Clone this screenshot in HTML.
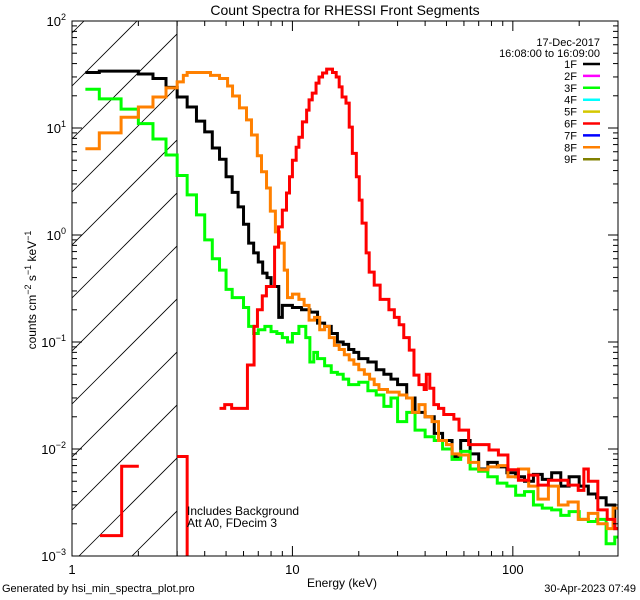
<!DOCTYPE html>
<html><head><meta charset="utf-8"><style>
html,body{margin:0;padding:0;background:#fff;width:640px;height:600px;overflow:hidden;}
svg{display:block;font-family:"Liberation Sans",sans-serif;}
</style></head><body>
<svg id="chart" width="640" height="600" viewBox="0 0 640 600">
<defs><clipPath id="plotclip"><rect x="72" y="21" width="546" height="535"/></clipPath>
<clipPath id="hatchclip"><rect x="72" y="21" width="105" height="535"/></clipPath></defs>
<text x="345" y="15" font-size="14" text-anchor="middle">Count Spectra for RHESSI Front Segments</text>
<g id="hatch" clip-path="url(#hatchclip)"></g>
<line x1="177" y1="21" x2="177" y2="556" stroke="#000" stroke-width="1"/>
<g id="series" clip-path="url(#plotclip)"></g>
<rect x="72" y="21" width="546" height="535" fill="none" stroke="#000" stroke-width="1"/>
<g id="axes"></g>
<text x="0" y="0" font-size="12" text-anchor="middle" transform="translate(36,290) rotate(-90)">counts cm<tspan dy="-5" font-size="9">−2</tspan><tspan dy="5"> s</tspan><tspan dy="-5" font-size="9">−1</tspan><tspan dy="5"> keV</tspan><tspan dy="-5" font-size="9">−1</tspan></text>
<text x="342" y="587" font-size="12" text-anchor="middle">Energy (keV)</text>
<text x="2" y="592" font-size="11">Generated by hsi_min_spectra_plot.pro</text>
<text x="636" y="592" font-size="11" text-anchor="end">30-Apr-2023 07:49</text>
<text x="187" y="515" font-size="12">Includes Background</text>
<text x="187" y="527" font-size="12">Att A0, FDecim 3</text>
<text x="600" y="46" font-size="11" text-anchor="end">17-Dec-2017</text>
<text x="600" y="57" font-size="11" text-anchor="end">16:08:00 to 16:09:00</text>
<g id="legend"></g>
</svg>
<script>
const legendLabels = ["1F","2F","3F","4F","5F","6F","7F","8F","9F"];
const legendColors = ["#000000","#ff00ff","#00ff00","#00ffff","#d4c800","#ff0000","#0000ff","#ff8000","#808000"];
const e1F = [1.15,1.33,1.67,2.0,2.33,2.67,3.0,3.33,3.67,4.0,4.33,4.67,5.0,5.33,5.67,6.0,6.33,6.67,7.0,7.33,7.67,8.0,8.33,8.67,9,10,11,12,13,14,15,16,17,18,19,20,22,24,26,28,30,33,36,40,44,48,53,58,64,70,77,85,94,103,113,124,136,150,165,180,200,220,240,265,290,300];
const v1F = [33,34,34,32,29,24,19.5,15.7,11.6,9.2,6.5,5.1,3.5,2.5,1.83,1.26,0.84,0.68,0.56,0.44,0.40,0.33,0.33,0.17,0.22,0.21,0.2,0.19,0.15,0.14,0.12,0.1,0.095,0.085,0.08,0.07,0.065,0.055,0.05,0.045,0.04,0.03,0.022,0.02,0.014,0.012,0.0085,0.012,0.009,0.0065,0.0075,0.0068,0.006,0.0055,0.005,0.0058,0.0052,0.006,0.0045,0.0055,0.0045,0.0038,0.0035,0.003,0.0018];
const e3F = [1.15,1.33,1.67,2.0,2.33,2.67,3.0,3.33,3.67,4.0,4.33,4.67,5.0,5.33,6.0,6.33,6.67,7.0,7.5,8,8.5,9,9.5,10,10.7,11.5,12,12.5,13,14,15,16,17,18,20,22,24,26,28,30,33,36,40,44,48,53,58,64,70,77,85,94,103,113,124,136,150,165,180,200,220,240,265,290,300];
const v3F = [23,18.7,15,11,7.9,5.6,3.6,2.37,1.54,0.9,0.6,0.47,0.31,0.26,0.21,0.14,0.12,0.13,0.14,0.125,0.12,0.11,0.1,0.12,0.14,0.11,0.065,0.08,0.07,0.06,0.052,0.05,0.045,0.04,0.042,0.035,0.032,0.025,0.03,0.018,0.022,0.015,0.013,0.012,0.01,0.008,0.0095,0.0065,0.0062,0.0055,0.0048,0.0045,0.0037,0.004,0.003,0.0028,0.0027,0.0024,0.0026,0.0022,0.0021,0.0022,0.0013,0.0015];
const e8F = [1.15,1.33,1.67,2.0,2.33,2.67,3.0,3.2,3.33,4.25,4.67,5.08,5.35,5.75,6.19,6.52,6.93,7.24,7.63,7.94,8.37,8.73,9.18,9.5,10,10.7,11.3,11.9,12.6,13.3,14,14.7,15.5,16.3,17.2,18.1,19,20,21.2,22.4,23.5,24.7,27,30.5,33,35,37.5,40,43,46,50,53,57,63,70,77,86,95,106,118,130,145,161,178,198,220,243,268,285,300];
const v8F = [6.4,9.0,12.6,15.7,19.5,23.7,27,31,33,31,29,24.7,19.9,15.4,11.9,8.6,5.5,3.9,2.75,1.67,1.07,0.84,0.47,0.26,0.28,0.25,0.22,0.16,0.17,0.13,0.14,0.11,0.093,0.085,0.076,0.068,0.062,0.055,0.05,0.045,0.04,0.036,0.034,0.032,0.03,0.022,0.026,0.02,0.018,0.012,0.011,0.009,0.0088,0.0075,0.0064,0.0068,0.007,0.0055,0.0065,0.0045,0.0034,0.0045,0.003,0.0032,0.0022,0.0025,0.002,0.0018,0.0028];
const e6F = [1.34,1.68,2.01,3.0,3.33,3.67,4.67,4.93,5.3,6.25,6.7,6.94,7.3,7.62,7.95,8.3,8.65,9.0,9.4,9.7,10.0,10.4,10.7,11.1,11.6,11.9,12.3,12.8,13.2,13.7,14.3,14.7,15.2,15.8,16.3,16.8,17.5,18.1,18.7,19.5,20.1,20.7,21.6,22.3,23.5,25,27.4,29,30.5,32,33.9,35.6,37.5,39.6,40.5,42,43.8,46,48.6,54,57,63,70,78,86,95,106,118,130,145,161,178,198,210,220,243,268,290,300];
const v6F = [0.00155,0.0069,null,0.0085,1e-6,null,0.024,0.026,0.024,0.061,0.14,0.2,0.27,0.33,0.33,0.77,1.19,1.71,2.47,3.5,5.0,6.6,8.2,11.4,14.7,18.3,21.2,26.3,30,32.7,35.5,35.5,33,30,24.2,19.5,17.1,10.2,5.8,3.5,2.12,1.29,0.68,0.45,0.34,0.25,0.2,0.17,0.145,0.11,0.084,0.049,0.04,0.036,0.05,0.037,0.026,0.024,0.021,0.019,0.015,0.011,0.011,0.0098,0.0088,0.0064,0.0051,0.0057,0.0046,0.0051,0.0051,0.0046,0.0041,0.0065,0.005,0.0027,0.0022,0.0018];
const xTickMajor = [1,10,100];
const xTickLabels = ["1","10","100"];
const yTickMajor = [2,1,0,-1,-2,-3];

const NS="http://www.w3.org/2000/svg";
const X0=72,X1=618,Y0=21,Y1=556,XMIN=0,XMAX=Math.log10(300),YMIN=-3,YMAX=2;
function xs(e){return X0+(Math.log10(e)-XMIN)/(XMAX-XMIN)*(X1-X0);}
function ys(v){return Y1-(Math.log10(v)-YMIN)/(YMAX-YMIN)*(Y1-Y0);}
function mk(tag,attrs,parent){const el=document.createElementNS(NS,tag);for(const k in attrs)el.setAttribute(k,attrs[k]);parent.appendChild(el);return el;}

const hatch=document.getElementById('hatch');
for(let k=-3;k<12;k++){const c=86+53*k;
 const ln=mk('line',{x1:X0,y1:c,x2:X0+600,y2:c-600,stroke:'#000','stroke-width':0.8},hatch);
 
 }

const axes=document.getElementById('axes');
function tick(x1,y1,x2,y2){const t=mk('line',{x1,y1,x2,y2,stroke:'#000','stroke-width':1},axes);
 
 }
for(let d=0;d<3;d++){for(let m=1;m<10;m++){const e=Math.pow(10,d)*m;if(e>300)break;const x=xs(e);const L=m===1?10:5;tick(x,Y1,x,Y1-L);tick(x,Y0,x,Y0+L);}}
xTickMajor.forEach((e,i)=>{const t=mk('text',{x:xs(e),y:574,'font-size':13,'text-anchor':'middle'},axes);t.textContent=xTickLabels[i];
 
 });
for(let d=-3;d<2;d++){for(let m=1;m<10;m++){const v=Math.pow(10,d)*m;const y=ys(v);const L=m===1?10:5;tick(X0,y,X0+L,y);tick(X1,y,X1-L,y);}}
tick(X0,Y0,X0+10,Y0);tick(X1,Y0,X1-10,Y0);
yTickMajor.forEach(p=>{const t=mk('text',{x:66,y:ys(Math.pow(10,p))+5,'font-size':13,'text-anchor':'end'},axes);
 t.innerHTML='10<tspan dy="-6" font-size="9">'+(p<0?'−'+(-p):p)+'</tspan>';
 
 });

const sg=document.getElementById('series');
function draw(E,V,color,name){let d='';let pen=false;
 for(let i=0;i<V.length;i++){const v=V[i];if(v===null){pen=false;continue;}
  const y=ys(v),xa=xs(E[i]),xb=xs(E[i+1]);
  if(!pen){d+='M'+xa+' '+y;pen=true;}else{d+='L'+xa+' '+y;}
  d+='L'+xb+' '+y;}
 const p=mk('path',{d,fill:'none',stroke:color,'stroke-width':3,'stroke-linejoin':'miter'},sg);
 
 }
draw(e1F,v1F,'#000000','series-1f');
draw(e3F,v3F,'#00ff00','series-3f');
draw(e8F,v8F,'#ff8000','series-8f');
draw(e6F,v6F,'#ff0000','series-6f');

const lg=document.getElementById('legend');
legendLabels.forEach((l,i)=>{const y=64+i*11.9;
 const t=mk('text',{x:577,y:y+4,'font-size':11,'text-anchor':'end'},lg);t.textContent=l;
 
 
 const ln=mk('line',{x1:583,y1:y,x2:600,y2:y,stroke:legendColors[i],'stroke-width':2.5},lg);
 
 });
</script>
</body></html>
